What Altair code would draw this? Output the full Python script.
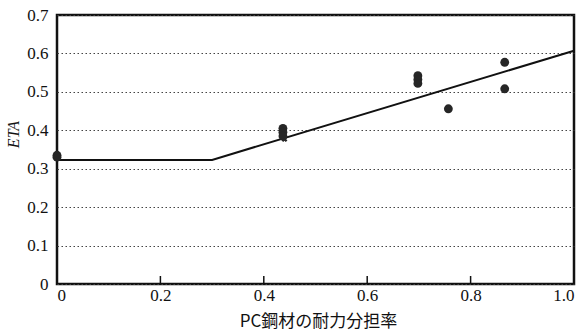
import altair as alt
import pandas as pd

# measured points (circles)
pt_x = [0.0, 0.0, 0.437, 0.437, 0.437, 0.698, 0.698, 0.698, 0.757, 0.866, 0.866]
pt_y = [0.335, 0.330, 0.405, 0.395, 0.385, 0.542, 0.532, 0.522, 0.456, 0.577, 0.508]

# measured point (cross marker)
cr_x = [0.440]
cr_y = [0.377]

# model line
line_x = [0.0, 0.3, 1.0]
line_y = [0.323, 0.323, 0.607]

# axis tick values
xvals = [0, 0.2, 0.4, 0.6, 0.8, 1.0]
yvals = [0, 0.1, 0.2, 0.3, 0.4, 0.5, 0.6, 0.7]
# x tick positions (inner ticks)
xticks = [0.2, 0.4, 0.6, 0.8]

pts = pd.DataFrame({"x": pt_x, "y": pt_y})
crs = pd.DataFrame({"x": cr_x, "y": cr_y})
ln = pd.DataFrame({"x": line_x, "y": line_y})
tk = pd.DataFrame({"x": xticks})

W, H = 517, 269
serif = "Liberation Serif"
jp = "Noto Sans CJK JP"

lab_expr = "datum.value == 0 ? '0' : format(datum.value, '.1f')"

xscale = alt.Scale(domain=[0, 1.0], nice=False, zero=False)
yscale = alt.Scale(domain=[0, 0.7], nice=False)

xaxis = alt.Axis(values=xvals, labelExpr=lab_expr, grid=False,
                 labelFont=serif, labelFontSize=17, labelPadding=3,
                 title="PC鋼材の耐力分担率", titleFont=jp, titleFontSize=17,
                 titleBaseline="middle", titleY=37, titleX=261)
yaxis = alt.Axis(values=yvals, labelExpr=lab_expr, grid=True,
                 gridDash=[1.5, 2.5], gridColor="#444", gridWidth=1,
                 labelFont=serif, labelFontSize=17, labelPadding=9,
                 title="ETA", titleFont=serif, titleFontStyle="italic",
                 titleFontSize=16, titleBaseline="middle", titleY=119, titleX=-44)

base_line = alt.Chart(ln).mark_line(color="#111", strokeWidth=2).encode(
    x=alt.X("x:Q", scale=xscale, axis=xaxis),
    y=alt.Y("y:Q", scale=yscale, axis=yaxis),
)

points = alt.Chart(pts).mark_circle(size=78, color="#262626", opacity=1).encode(
    x=alt.X("x:Q", scale=xscale, axis=xaxis),
    y=alt.Y("y:Q", scale=yscale, axis=yaxis),
)

cross = alt.Chart(crs).mark_point(shape="cross", angle=45, size=35, filled=True,
                                  color="#262626", opacity=1).encode(
    x=alt.X("x:Q", scale=xscale, axis=xaxis),
    y=alt.Y("y:Q", scale=yscale, axis=yaxis),
)

ticks = alt.Chart(tk).mark_rule(color="#111", strokeWidth=1.5).encode(
    x=alt.X("x:Q", scale=xscale, axis=xaxis),
    y=alt.value(H),
    y2=alt.value(H - 8),
)

chart = alt.layer(base_line, ticks, cross, points).properties(
    width=W, height=H,
    autosize=alt.AutoSizeParams(type="none"),
    padding={"left": 57, "top": 15, "right": 11, "bottom": 47},
    background="white",
).configure_view(stroke="#111", strokeWidth=2.5).configure_axis(
    labelColor="#111", labelOverlap=False, ticks=False, domain=False,
    titleFontWeight="normal", titleColor="#111",
)

chart.save("out.html", embed_options={"renderer": "svg", "actions": False})
